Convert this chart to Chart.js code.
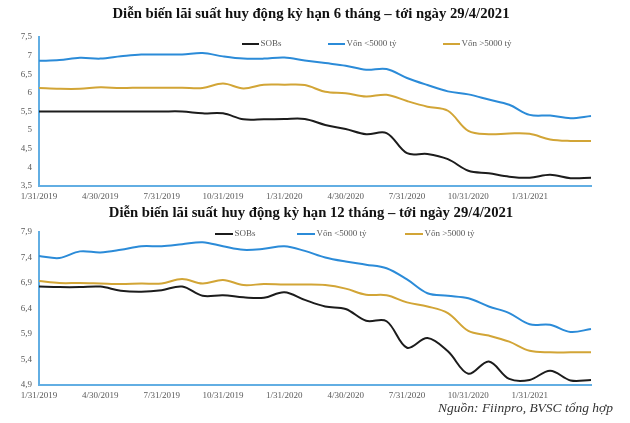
<!DOCTYPE html>
<html><head><meta charset="utf-8">
<script src="https://cdn.jsdelivr.net/npm/chart.js@4.4.1/dist/chart.umd.min.js"></script>
<style>
html,body{margin:0;padding:0;background:#fff;}
#wrap{position:relative;width:630px;height:423px;overflow:hidden;background:#fff;}
canvas{position:absolute;left:0;}
.title{position:absolute;left:-4px;width:630px;text-align:center;font-family:"Liberation Serif",serif;font-weight:bold;font-size:14.7px;line-height:16px;color:#111;white-space:nowrap;}
.src{position:absolute;font-family:"Liberation Serif",serif;font-style:italic;font-size:13.5px;line-height:16px;color:#333;white-space:nowrap;}
</style></head>
<body><div id="wrap">
<canvas id="c1" width="630" height="205" style="top:0"></canvas>
<canvas id="c2" width="630" height="218" style="top:205px"></canvas>
<div class="title" style="top:5px">Diễn biến lãi suất huy động kỳ hạn 6 tháng – tới ngày 29/4/2021</div>
<div class="title" style="top:204px">Diễn biến lãi suất huy động kỳ hạn 12 tháng – tới ngày 29/4/2021</div>
<div class="src" style="left:438px;top:400px">Nguồn: Fiinpro, BVSC tổng hợp</div>
</div>
<script>
// ---- data ----
const months = ["1/31/2019","2/28/2019","3/31/2019","4/30/2019","5/31/2019","6/30/2019","7/31/2019","8/31/2019","9/30/2019","10/31/2019","11/30/2019","12/31/2019","1/31/2020","2/29/2020","3/31/2020","4/30/2020","5/31/2020","6/30/2020","7/31/2020","8/31/2020","9/30/2020","10/31/2020","11/30/2020","12/31/2020","1/31/2021","2/28/2021","3/31/2021","4/29/2021"];
const xTickLabels = ["1/31/2019","4/30/2019","7/31/2019","10/31/2019","1/31/2020","4/30/2020","7/31/2020","10/31/2020","1/31/2021"];
const seriesNames = ["SOBs","Vốn <5000 tỷ","Vốn >5000 tỷ"];

const sobs6 = [5.5,5.5,5.5,5.5,5.5,5.5,5.5,5.5,5.45,5.45,5.29,5.29,5.30,5.30,5.14,5.03,4.89,4.92,4.38,4.36,4.22,3.91,3.84,3.75,3.72,3.80,3.71,3.72];
const small6 = [6.86,6.88,6.94,6.92,6.98,7.03,7.03,7.03,7.07,6.98,6.92,6.92,6.95,6.87,6.80,6.73,6.62,6.64,6.40,6.21,6.04,5.96,5.82,5.68,5.41,5.39,5.32,5.38];
const large6 = [6.13,6.11,6.11,6.15,6.13,6.14,6.14,6.14,6.13,6.25,6.12,6.22,6.22,6.21,6.03,5.99,5.90,5.95,5.78,5.63,5.52,4.98,4.89,4.91,4.90,4.75,4.71,4.71];

const sobs12 = [6.83,6.82,6.82,6.83,6.75,6.73,6.76,6.83,6.65,6.66,6.62,6.61,6.72,6.57,6.44,6.39,6.16,6.15,5.63,5.82,5.56,5.12,5.36,5.02,5.00,5.18,4.99,5.00];
const small12 = [7.43,7.39,7.52,7.50,7.55,7.62,7.62,7.66,7.70,7.62,7.55,7.57,7.62,7.53,7.40,7.32,7.26,7.19,6.97,6.70,6.65,6.60,6.44,6.31,6.09,6.08,5.94,6.00];
const large12 = [6.94,6.90,6.90,6.89,6.88,6.89,6.89,6.98,6.89,6.96,6.86,6.88,6.87,6.87,6.86,6.79,6.67,6.66,6.52,6.44,6.31,5.96,5.87,5.75,5.57,5.54,5.54,5.54];

const yTicks6 = {min:3.5, max:7.5, step:0.5};
const yTicks12 = {min:4.9, max:7.9, step:0.5};

// ---- styles ----
const colors = ["#1c1c1c","#2b8bd8","#d2a536"];
const axisColor = "#62aee3";
const tickColor = "#595959";
Chart.defaults.font.family = '"Liberation Serif", "Times New Roman", serif';

const inlineLegend = {
  id: 'inlineLegend',
  afterDraw(chart, args, opts) {
    const ctx = chart.ctx;
    ctx.save();
    ctx.font = opts.font;
    ctx.textBaseline = 'middle';
    ctx.textAlign = 'left';
    chart.data.datasets.forEach((ds, i) => {
      const x = opts.xs[i];
      ctx.strokeStyle = ds.borderColor;
      ctx.lineWidth = 2;
      ctx.beginPath(); ctx.moveTo(x, opts.y); ctx.lineTo(x + opts.len, opts.y); ctx.stroke();
      ctx.fillStyle = opts.color;
      ctx.fillText(ds.label, x + opts.len + 1.5, opts.y);
    });
    ctx.restore();
  }
};

function fmt(v){
  if (Math.abs(v - Math.round(v)) < 1e-6) return String(Math.round(v));
  return v.toFixed(1).replace('.', ',');
}

function makeChart(id, data, yt, pad, legendOpts){
  return new Chart(document.getElementById(id), {
    type: 'line',
    data: {
      labels: months,
      datasets: data.map((d, i) => ({
        label: seriesNames[i], data: d, borderColor: colors[i], backgroundColor: colors[i],
        borderWidth: 2, pointRadius: 0, tension: 0.35, fill: false
      }))
    },
    options: {
      responsive: false, animation: false, devicePixelRatio: 1,
      layout: { padding: pad },
      plugins: { legend: { display: false }, title: { display: false }, tooltip: { enabled: false },
        inlineLegend: legendOpts },
      scales: {
        x: {
          type: 'category', offset: false,
          grid: { display: false, drawTicks: false },
          border: { display: true, color: axisColor, width: 2 },
          ticks: { autoSkip: false, maxRotation: 0, minRotation: 0, padding: 5, color: tickColor,
            font: { size: 9 },
            callback: function(v, i){ return xTickLabels.includes(months[i]) ? months[i] : ''; } },
          afterFit: function(s){ s.height = 19; }
        },
        y: {
          min: yt.min, max: yt.max,
          grid: { display: false, drawTicks: false },
          border: { display: true, color: axisColor, width: 2 },
          ticks: { stepSize: yt.step, padding: 7, color: tickColor, font: { size: 9 },
            callback: function(v){ return fmt(v); } },
          afterFit: function(s){ s.width = 39; }
        }
      }
    },
    plugins: [inlineLegend]
  });
}

makeChart('c1', [sobs6, small6, large6], yTicks6, {top: 37, right: 39, bottom: 0, left: 0},
  { xs: [242, 328, 443], y: 44, len: 17, font: '9px "Liberation Serif", serif', color: '#595959' });
makeChart('c2', [sobs12, small12, large12], yTicks12, {top: 27, right: 39, bottom: 19, left: 0},
  { xs: [215, 297, 405], y: 29, len: 18, font: '9px "Liberation Serif", serif', color: '#595959' });
</script>
</body></html>
